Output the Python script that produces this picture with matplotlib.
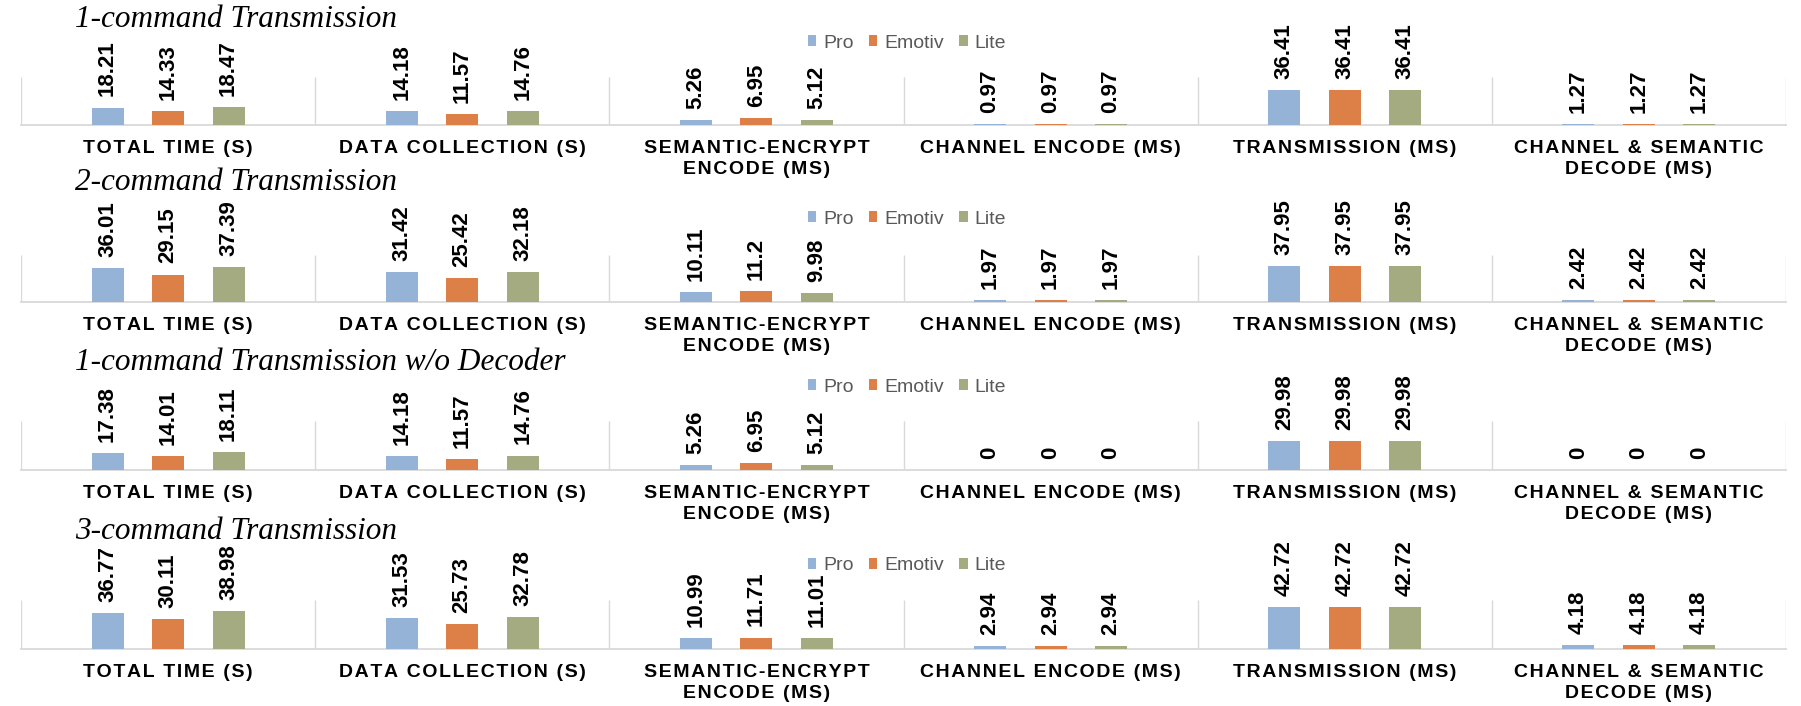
import numpy as np
import matplotlib
matplotlib.use("Agg")
import matplotlib.pyplot as plt

# ---------------- data ----------------
categories = ["TOTAL TIME (S)", "DATA COLLECTION (S)", "SEMANTIC-ENCRYPT\nENCODE (MS)",
              "CHANNEL ENCODE (MS)", "TRANSMISSION (MS)", "CHANNEL & SEMANTIC\nDECODE (MS)"]
series_names = ["Pro", "Emotiv", "Lite"]

titles = ["1-command Transmission", "2-command Transmission",
          "1-command Transmission w/o Decoder", "3-command Transmission"]

# 1-command Transmission
r1_pro = [18.21, 14.18, 5.26, 0.97, 36.41, 1.27]
r1_emotiv = [14.33, 11.57, 6.95, 0.97, 36.41, 1.27]
r1_lite = [18.47, 14.76, 5.12, 0.97, 36.41, 1.27]
# 2-command Transmission
r2_pro = [36.01, 31.42, 10.11, 1.97, 37.95, 2.42]
r2_emotiv = [29.15, 25.42, 11.2, 1.97, 37.95, 2.42]
r2_lite = [37.39, 32.18, 9.98, 1.97, 37.95, 2.42]
# 1-command Transmission w/o Decoder
r3_pro = [17.38, 14.18, 5.26, 0, 29.98, 0]
r3_emotiv = [14.01, 11.57, 6.95, 0, 29.98, 0]
r3_lite = [18.11, 14.76, 5.12, 0, 29.98, 0]
# 3-command Transmission
r4_pro = [36.77, 31.53, 10.99, 2.94, 42.72, 4.18]
r4_emotiv = [30.11, 25.73, 11.71, 2.94, 42.72, 4.18]
r4_lite = [38.98, 32.78, 11.01, 2.94, 42.72, 4.18]

rows = [(r1_pro, r1_emotiv, r1_lite), (r2_pro, r2_emotiv, r2_lite),
        (r3_pro, r3_emotiv, r3_lite), (r4_pro, r4_emotiv, r4_lite)]

# ---------------- style ----------------
colors = ["#95B3D7", "#DD8047", "#A5AB81"]
grid_color = "#D9D9D9"
W, H = 1801, 706
baselines = [125, 302, 470, 649]   # px from top
tops = [77, 255, 421, 600]
title_y = [27, 190, 370, 539]
legend_y = [43, 219, 387, 566]
SANS = ["Liberation Sans", "DejaVu Sans"]
SERIF = ["Liberation Serif", "DejaVu Serif"]


def spaced(s):
    return "\n".join("\u200a".join(list(line)) for line in s.split("\n"))


fig = plt.figure(figsize=(W / 100, H / 100), dpi=100)

offsets = [-0.2056, 0.0, 0.2056]
bw = 0.109
x = np.arange(len(categories))
leg_size = 14.0
leg_px = leg_size * 100 / 72

for r, data in enumerate(rows):
    b, t = baselines[r], tops[r]
    ax = fig.add_axes([21 / W, (H - b) / H, 1765 / W, (b - t) / H])
    handles = []
    for k, vals in enumerate(data):
        bars = ax.bar(x + offsets[k], vals, bw, color=colors[k], label=series_names[k], zorder=3)
        handles.append(bars)
        ax.bar_label(bars, labels=[f"{v:g}" for v in vals], rotation=90, padding=8,
                     fontsize=16, fontweight="bold", family=SANS, color="black")
    ax.set_xlim(-0.5, len(categories) - 0.5)
    ax.set_ylim(0, 50)
    ax.vlines(np.arange(-0.5, len(categories)), 0, 50, color=grid_color, lw=1, zorder=1)
    for s in ["top", "left", "right"]:
        ax.spines[s].set_visible(False)
    ax.spines["bottom"].set_color(grid_color)
    ax.spines["bottom"].set_linewidth(1.3)
    ax.set_yticks([])
    ax.set_xticks(x)
    ax.set_xticklabels([spaced(c) for c in categories], fontsize=14, fontweight="bold",
                       family=SANS, color="black", multialignment="center", linespacing=1.33)
    ax.tick_params(axis="x", length=0, pad=10.5)
    ax.patch.set_alpha(0)

    fig.text(75 / W, 1 - title_y[r] / H, titles[r], fontsize=22.5, style="italic",
             family=SERIF, va="baseline", ha="left", color="black")
    fig.legend(handles=handles, labels=series_names, loc="center",
               bbox_to_anchor=(907 / W, 1 - legend_y[r] / H), ncol=3, frameon=False,
               prop={"family": SANS, "size": leg_size}, labelcolor="#595959",
               handlelength=8.5 / leg_px, handleheight=8.5 / leg_px,
               handletextpad=7 / leg_px, columnspacing=15 / leg_px,
               borderpad=0, borderaxespad=0)

fig.savefig("out.png", dpi=100)
